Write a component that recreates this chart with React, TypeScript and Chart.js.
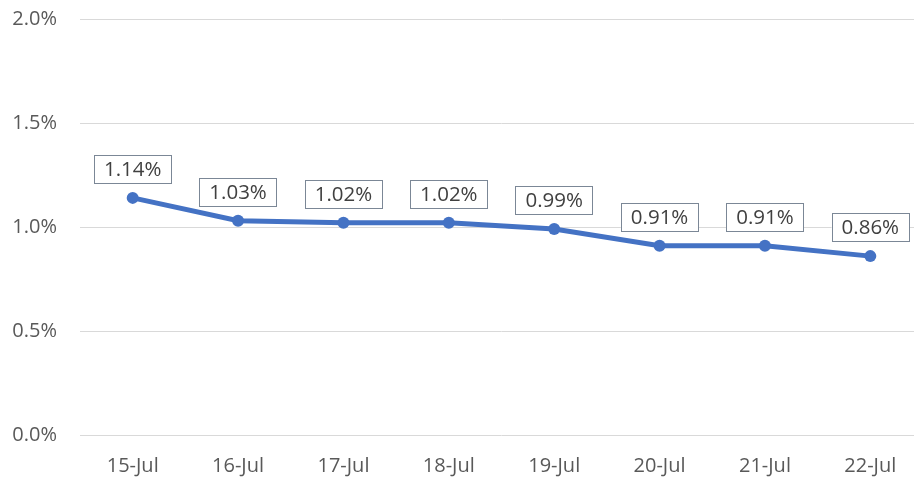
import React, { useEffect, useRef } from "react";
import { Chart, registerables } from "chart.js";

Chart.register(...registerables);

const categories = ["15-Jul", "16-Jul", "17-Jul", "18-Jul", "19-Jul", "20-Jul", "21-Jul", "22-Jul"];
const rates = [1.14, 1.03, 1.02, 1.02, 0.99, 0.91, 0.91, 0.86];
const yTicks = [0, 0.5, 1.0, 1.5, 2.0];

const FONT = "'Open Sans', 'DejaVu Sans', sans-serif";

const boxLabels = {
  id: "boxLabels",
  afterDatasetsDraw(chart: any) {
    const ctx = chart.ctx;
    const meta = chart.getDatasetMeta(0);
    ctx.save();
    ctx.font = `20.5px ${FONT}`;
    ctx.textAlign = "center";
    ctx.textBaseline = "middle";
    meta.data.forEach((pt: any, i: number) => {
      const text = rates[i].toFixed(2) + "%";
      const w = ctx.measureText(text).width + 20;
      const h = 28;
      const cx = pt.x;
      const cy = pt.y - 29;
      ctx.fillStyle = "#ffffff";
      ctx.fillRect(cx - w / 2, cy - h / 2, w, h);
      ctx.strokeStyle = "#7b8796";
      ctx.lineWidth = 1;
      ctx.strokeRect(Math.round(cx - w / 2) + 0.5, Math.round(cy - h / 2) + 0.5, Math.round(w), h);
      ctx.fillStyle = "#404040";
      ctx.fillText(text, cx, cy + 1);
    });
    ctx.restore();
  },
};

export default function App() {
  const ref = useRef<HTMLCanvasElement | null>(null);
  useEffect(() => {
    if (!ref.current) return;
    const chart = new Chart(ref.current, {
      type: "line",
      data: {
        labels: categories,
        datasets: [
          {
            data: rates,
            borderColor: "#4472C4",
            backgroundColor: "#4472C4",
            borderWidth: 5,
            pointRadius: 6,
            pointBorderWidth: 0,
            pointBackgroundColor: "#4472C4",
            tension: 0,
          },
        ],
      },
      options: {
        animation: false,
        responsive: false,
        layout: { autoPadding: false, padding: { top: 19, right: 0, left: 0, bottom: 0 } },
        plugins: { legend: { display: false }, tooltip: { enabled: false } },
        scales: {
          x: {
            offset: true,
            grid: { display: false, drawTicks: false },
            border: { display: false },
            ticks: { color: "#595959", font: { family: FONT, size: 20 }, padding: 19, maxRotation: 0 },
            afterFit(scale: any) {
              scale.height = 43;
              scale.paddingLeft = 0;
              scale.paddingRight = 0;
            },
          },
          y: {
            min: 0,
            max: 2,
            afterBuildTicks(scale: any) {
              scale.ticks = yTicks.map((v) => ({ value: v }));
            },
            grid: { color: "#d9d9d9", lineWidth: 1, drawTicks: false },
            border: { display: false },
            ticks: {
              color: "#595959",
              font: { family: FONT, size: 20 },
              padding: 23,
              callback: (v: any) => Number(v).toFixed(1) + "%",
            },
            afterFit(scale: any) {
              scale.width = 80;
              scale.paddingTop = 0;
              scale.paddingBottom = 0;
            },
          },
        },
      },
      plugins: [boxLabels],
    });
    return () => chart.destroy();
  }, []);
  return (
    <div style={{ position: "fixed", left: 0, top: 0, width: 914, height: 478, overflow: "hidden", background: "#fff" }}>
      <canvas ref={ref} width={923} height={478} style={{ width: 923, height: 478, display: "block" }} />
    </div>
  );
}
